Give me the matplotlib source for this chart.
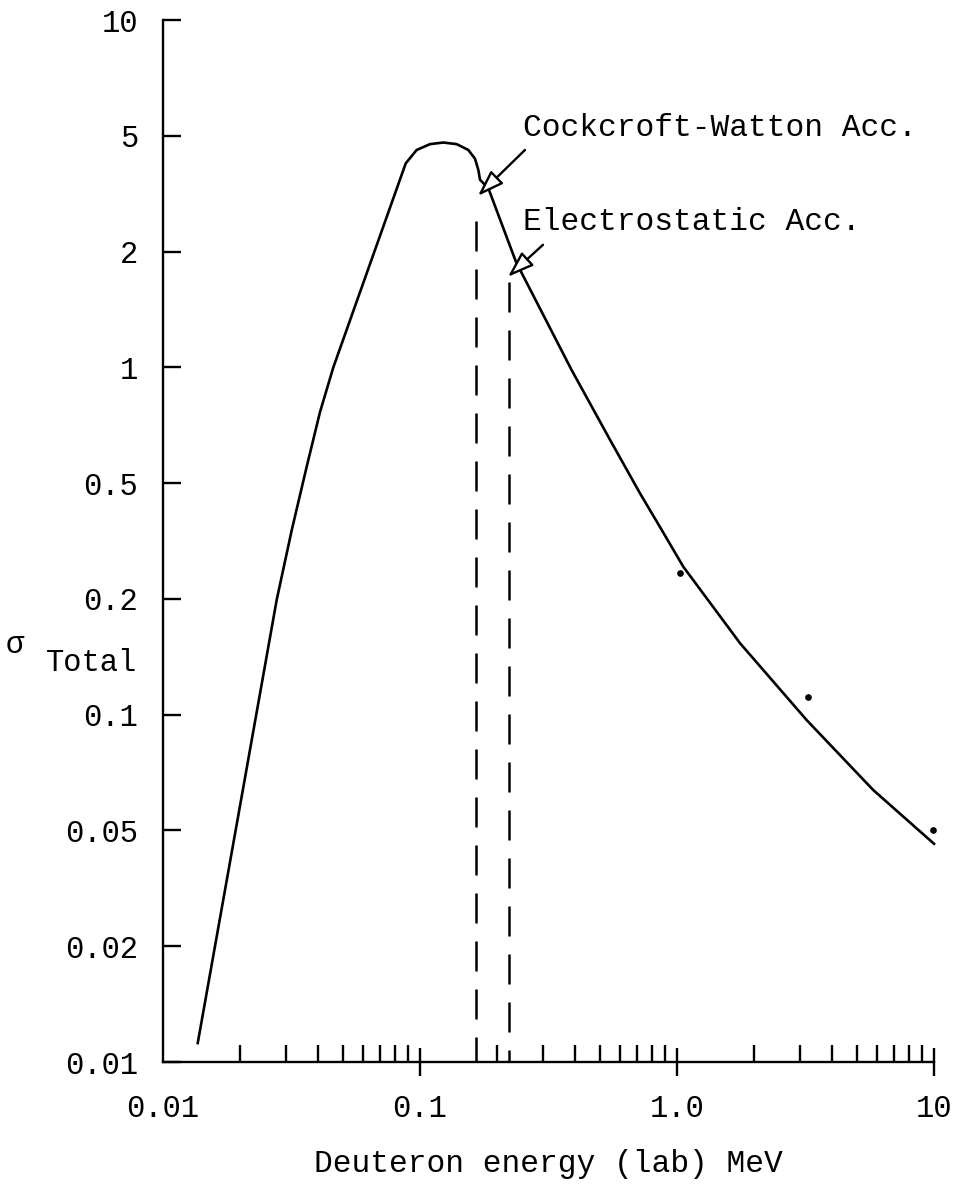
import numpy as np
import matplotlib
matplotlib.use("Agg")
import matplotlib.pyplot as plt
from matplotlib.ticker import FixedLocator, NullLocator, NullFormatter, LogLocator

plt.rcParams['font.family'] = ['Liberation Mono', 'DejaVu Sans Mono']

# total cross section vs deuteron energy
energy = [0.01365, 0.01941, 0.0277, 0.0317, 0.03624, 0.0408, 0.046, 0.088,
          0.0971, 0.1094, 0.1232, 0.1389, 0.1541, 0.1637, 0.1686, 0.1712,
          0.1845, 0.2363, 0.389, 0.5487, 0.718, 0.859, 1.058, 1.759, 3.196,
          5.80, 10.0]
sigma = [0.0112, 0.0524, 0.199, 0.345, 0.552, 0.764, 1.0, 4.02,
         4.47, 4.68, 4.74, 4.68, 4.47, 4.17, 3.82, 3.53,
         3.30, 1.88, 0.984, 0.648, 0.461, 0.353, 0.258, 0.1534, 0.0968,
         0.0637, 0.045]

# measured points
pt_energy = [1.03, 3.22, 9.94]
pt_sigma = [0.245, 0.111, 0.05]

# accelerator limits
cw_energy, cw_top = 0.165, 2.55
es_energy, es_top = 0.222, 1.67

yticks = [0.01, 0.02, 0.05, 0.1, 0.2, 0.5, 1, 2, 5, 10]
ylabels = ['0.01', '0.02', '0.05', '0.1', '0.2', '0.5', '1', '2', '5', '10']
xticks = [0.01, 0.1, 1, 10]
xlabels = ['0.01', '0.1', '1.0', '10']

# graph paper with 1-2-5 steps evenly spaced inside each decade
_m = [0, np.log10(2), np.log10(5), 1]
_u = [0, 1/3, 2/3, 1]


def fwd(v):
    v = np.asarray(v, dtype=float)
    with np.errstate(divide='ignore', invalid='ignore'):
        d = np.log10(np.where(v > 0, v, 1e-300))
    k = np.floor(d)
    return k + np.interp(d - k, _m, _u)


def inv(u):
    u = np.asarray(u, dtype=float)
    k = np.floor(u)
    return 10 ** (k + np.interp(u - k, _u, _m))


fig = plt.figure(figsize=(9.55, 11.88), dpi=100)
ax = fig.add_axes([163/955, 1 - 1062/1188, (934 - 163)/955, (1062 - 20)/1188])
ax.set_xscale('log')
ax.set_yscale('function', functions=(fwd, inv))
ax.set_xlim(0.01, 10)
ax.set_ylim(0.01, 10)

ax.plot(energy, sigma, color='black', lw=1.9, solid_joinstyle='round',
        clip_on=False)
ax.plot(pt_energy, pt_sigma, 'o', color='black', ms=3.8, clip_on=False)

for xe, top in [(cw_energy, cw_top), (es_energy, es_top)]:
    ax.plot([xe, xe], [top, 0.01], color='black', lw=1.8, dashes=(12, 7.2))

arrow = dict(arrowstyle='-|>,head_length=1.6,head_width=0.55',
             fc='white', ec='black', lw=1.7, shrinkA=0, shrinkB=0)
ax.annotate('', xy=(0.1682, 3.11), xytext=(0.2562, 4.47), arrowprops=arrow)
ax.annotate('', xy=(0.2200, 1.72), xytext=(0.301, 2.11), arrowprops=arrow)
ax.text(0.2517, 5.24, 'Cockcroft-Watton Acc.', fontsize=22.5, va='center', ha='left')
ax.text(0.2517, 2.53, 'Electrostatic Acc.', fontsize=22.5, va='center', ha='left')

for s in ['top', 'right']:
    ax.spines[s].set_visible(False)
for s in ['left', 'bottom']:
    ax.spines[s].set_linewidth(1.7)

ax.yaxis.set_major_locator(FixedLocator(yticks))
ax.set_yticklabels(ylabels)
ax.yaxis.set_minor_locator(NullLocator())
ax.tick_params(axis='y', which='major', direction='in', length=13, width=1.7,
               pad=18, labelsize=22)

ax.xaxis.set_major_locator(FixedLocator(xticks))
ax.set_xticklabels(xlabels)
ax.xaxis.set_minor_locator(LogLocator(base=10, subs=np.arange(2, 10)))
ax.xaxis.set_minor_formatter(NullFormatter())
ax.tick_params(axis='x', which='major', direction='inout', length=20, width=1.7,
               pad=13, labelsize=22)
ax.tick_params(axis='x', which='minor', direction='in', length=12, width=1.7)
ax.xaxis.get_major_ticks()[0].tick1line.set_visible(False)

ax.set_xlabel('Deuteron energy (lab) MeV', fontsize=22.5, labelpad=18)

fig.text(15/955, 1 - 645/1188, 'σ', fontsize=22, ha='center', va='center')
fig.text(137/955, 1 - 663/1188, 'Total', fontsize=22, ha='right', va='center')

fig.savefig('out.png', dpi=100)
